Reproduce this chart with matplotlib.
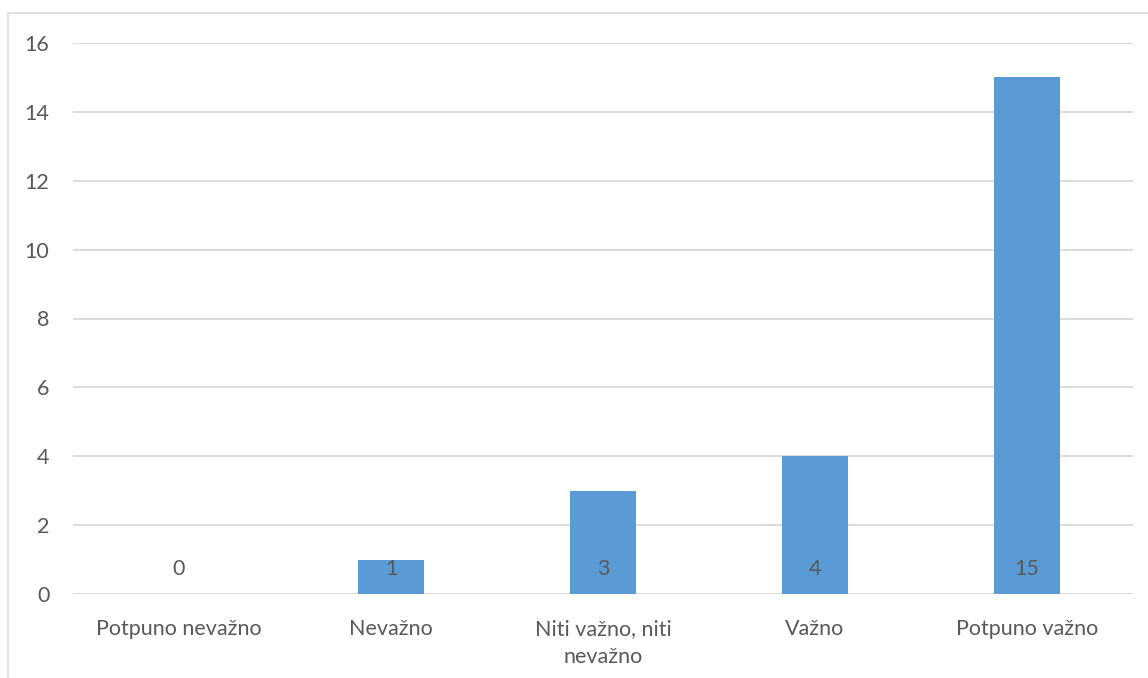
import matplotlib
matplotlib.use('Agg')
import matplotlib.pyplot as plt
from matplotlib.patches import Rectangle

plt.rcParams['font.family'] = ['Lato', 'DejaVu Sans']

categories = ['Potpuno nevažno', 'Nevažno', 'Niti važno, niti\nnevažno', 'Važno', 'Potpuno važno']
values = [0, 1, 3, 4, 15]
yticks = [0, 2, 4, 6, 8, 10, 12, 14, 16]

txt = '#595959'
grid = '#d9d9d9'

fig = plt.figure(figsize=(11.48, 6.78), dpi=100)
ax = fig.add_axes([73/1148, 1-594/678, 1060/1148, 551/678])

# outer chart border (partly cropped)
fig.patches.append(Rectangle((8/1148, -0.1), 1.2, 1.1 - 13/678,
                             transform=fig.transFigure, fill=False,
                             edgecolor=grid, linewidth=1.2))

x = range(len(categories))
ax.bar(x, values, width=0.31, color='#5b9bd5', zorder=3)
for i, v in zip(x, values):
    ax.annotate(str(v), (i, 0), xytext=(0, 18), textcoords='offset points',
                ha='center', va='center', fontsize=15.5, color=txt, zorder=4)

ax.set_xlim(-0.5, len(categories) - 0.5)
ax.set_ylim(0, 16)
ax.set_yticks(yticks)
ax.yaxis.grid(True, color=grid, linewidth=1.3, zorder=0)
ax.set_xticks(list(x))
ax.set_xticklabels(categories, linespacing=1.5)
ax.tick_params(axis='both', length=0, labelsize=15.5, colors=txt)
ax.tick_params(axis='y', pad=17)
ax.tick_params(axis='x', pad=18)
for s in ax.spines.values():
    s.set_visible(False)

fig.savefig('out.png', dpi=100)
